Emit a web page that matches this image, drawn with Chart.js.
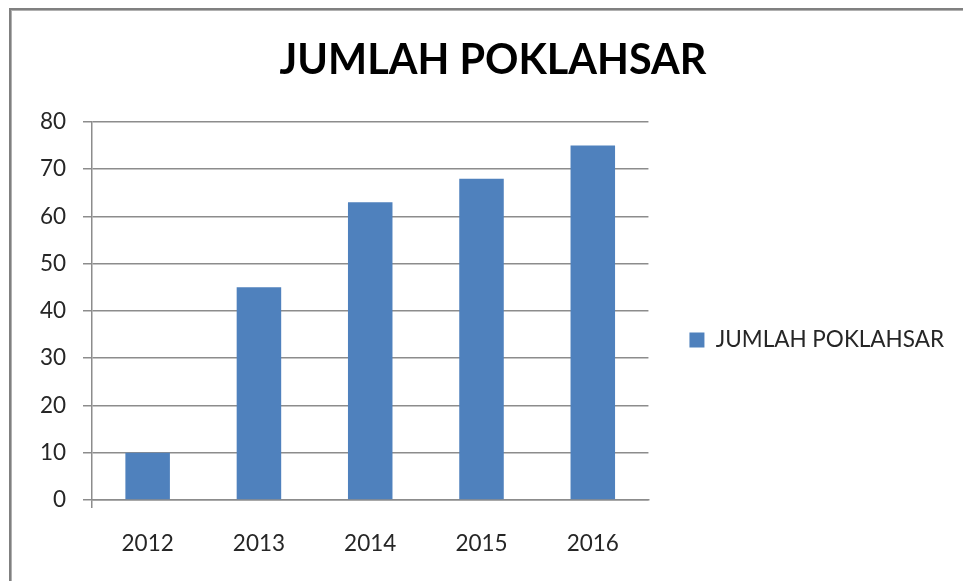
<!DOCTYPE html>
<html>
<head>
<meta charset="utf-8">
<script src="https://cdn.jsdelivr.net/npm/chart.js@4/dist/chart.umd.min.js"></script>
<style>
  html, body { margin: 0; padding: 0; background: #fff; overflow: hidden; }
  #wrap { position: relative; width: 963px; height: 581px; overflow: hidden; }
  #frame { position: absolute; left: 9px; top: 8px; width: 1100px; height: 800px;
           border: 2px solid #808080; box-shadow: inset 1px 1px 0 #b0b0b0; }
  #c { position: absolute; left: 0; top: 0; }
</style>
</head>
<body>
<div id="wrap">
  <div id="frame"></div>
  <canvas id="c" width="963" height="581"></canvas>
</div>
<script>
const chartTitle = 'JUMLAH POKLAHSAR';
const seriesName = 'JUMLAH POKLAHSAR';
const categories = ['2012', '2013', '2014', '2015', '2016'];
const values = [10, 45, 63, 68, 75];
const yMin = 0;
const yMax = 80;
const yStep = 10;

const FONT = 'Lato, "Open Sans", sans-serif';
const GRID = '#8c8c8c';
const TEXT = '#262626';

new Chart(document.getElementById('c'), {
  type: 'bar',
  data: {
    labels: categories,
    datasets: [{
      label: seriesName,
      data: values,
      backgroundColor: '#4F81BD',
      borderWidth: 0,
      barPercentage: 0.4,
      categoryPercentage: 1.0
    }]
  },
  options: {
    responsive: false,
    animation: false,
    layout: { padding: { left: 32, right: 9, top: 8, bottom: 0 } },
    plugins: {
      tooltip: { enabled: false },
      title: {
        display: true,
        text: chartTitle,
        color: '#000',
        font: { family: FONT, size: 41.4, weight: 'bold', lineHeight: 1.2 },
        padding: { top: 28, bottom: 36.3 }
      },
      legend: {
        display: true,
        position: 'right',
        align: 'center',
        maxWidth: 400,
        title: { display: true, text: ' ', font: { size: 10, lineHeight: 1 }, padding: { top: 81, bottom: 0 } },
        labels: {
          boxWidth: 15,
          boxHeight: 15,
          padding: 41,
          color: TEXT,
          font: { family: FONT, size: 22.5 }
        }
      }
    },
    scales: {
      x: {
        offset: true,
        grid: {
          display: true,
          drawOnChartArea: false,
          drawTicks: true,
          tickLength: 8,
          color: (ctx) => ctx.index === 0 ? GRID : 'rgba(0,0,0,0)',
          lineWidth: 1.5
        },
        border: { display: true, color: GRID, width: 1.5 },
        ticks: { color: TEXT, font: { family: FONT, size: 22.5 }, padding: 22.5, maxRotation: 0 },
        afterFit: (s) => { s.height = 81; }
      },
      y: {
        min: yMin,
        max: yMax,
        grid: { color: GRID, lineWidth: 1.5, tickLength: 9, drawTicks: true },
        border: { display: true, color: GRID, width: 1.5 },
        ticks: { stepSize: yStep, color: TEXT, font: { family: FONT, size: 22.5 }, padding: 17 },
        afterFit: (s) => { s.width = 60; }
      }
    }
  }
});
</script>
</body>
</html>
